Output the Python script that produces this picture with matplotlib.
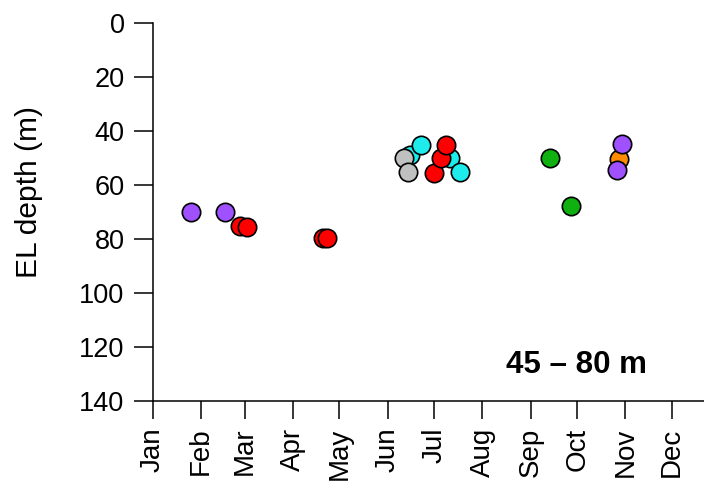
import matplotlib
matplotlib.use("Agg")
import matplotlib.pyplot as plt

plt.rcParams['font.family'] = ['Liberation Sans', 'DejaVu Sans']

# Day-of-year positions and EL depth (m) per colour series
purple_day = [25.5, 47.3, 299.6, 302.8]
purple_depth = [70, 70, 54.4, 44.8]
red_day = [57, 61.5, 110.4, 113, 181.8, 186.3, 189.5]
red_depth = [75.2, 75.6, 79.6, 79.6, 55.6, 50, 45.2]
cyan_day = [166.4, 173.5, 192.1, 198.6]
cyan_depth = [48.9, 45.2, 50, 55.2]
gray_day = [162.5, 165.1]
gray_depth = [50, 55.2]
green_day = [256.5, 270]
green_depth = [50, 67.8]
orange_day = [300.9]
orange_depth = [50.4]

month_starts = [1, 32, 60, 91, 121, 152, 182, 213, 244, 274, 305, 335]
month_labels = ['Jan', 'Feb', 'Mar', 'Apr', 'May', 'Jun', 'Jul', 'Aug',
                'Sep', 'Oct', 'Nov', 'Dec']
y_ticks = [0, 20, 40, 60, 80, 100, 120, 140]

fig = plt.figure(figsize=(7.04, 4.83), dpi=100)
x0 = 153
px_per_day = 1.554
x_right = x0 + 365 * px_per_day
ax = fig.add_axes([x0/704, 1-401/483, (x_right - x0)/704, (401-23)/483])

series = [
    (cyan_day, cyan_depth, '#1EEBEB'),
    (gray_day, gray_depth, '#C0C0C0'),
    (red_day, red_depth, '#FF0000'),
    (green_day, green_depth, '#10B010'),
    (orange_day, orange_depth, '#FF8C00'),
    (purple_day, purple_depth, '#9F50FF'),
]
for d, v, c in series:
    ax.scatter(d, v, s=175, c=c, edgecolors='black', linewidths=1.2, zorder=3, clip_on=False)

ax.set_xlim(1, 366)
ax.set_ylim(140, 0)
ax.set_xticks(month_starts)
ax.set_xticklabels(month_labels, rotation=90, fontsize=20)
ax.set_yticks(y_ticks)
ax.set_yticklabels([str(t) for t in y_ticks], fontsize=19.5)
ax.tick_params(axis='y', length=13.5, width=1.1, pad=7)
ax.tick_params(axis='x', length=13, width=1.1, pad=6)
for s in ['top', 'right']:
    ax.spines[s].set_visible(False)
for s in ['left', 'bottom']:
    ax.spines[s].set_linewidth(1.1)

fig.text(29/704, 1-192/483, 'EL depth (m)', rotation=90, ha='center', va='center', fontsize=21.5)
fig.text(576/704, 1-365/483, '45 \u2013 80 m', ha='center', va='center', fontsize=22.5, fontweight='bold')

fig.savefig('out.png', dpi=100)
